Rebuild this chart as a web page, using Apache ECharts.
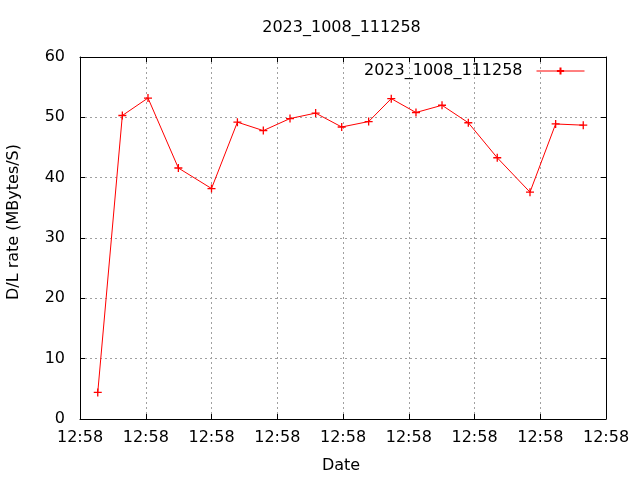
<!DOCTYPE html>
<html>
<head>
<meta charset="utf-8">
<script src="https://cdn.jsdelivr.net/npm/echarts@6/dist/echarts.min.js"></script>
<style>html,body{margin:0;padding:0;background:#fff}#c{width:640px;height:480px}</style>
</head>
<body>
<div id="c"></div>
<script>
// Data
var seriesName = '2023_1008_111258';
var chartTitle = '2023_1008_111258';
var xSeconds = [1.35, 3.22, 5.17, 7.48, 10.0, 11.97, 13.94, 15.97, 17.92, 19.9, 21.95, 23.67, 25.55, 27.53, 29.53, 31.73, 34.22, 36.17, 38.27];
var rates = [4.4, 50.3, 53.2, 41.6, 38.2, 49.2, 47.8, 49.8, 50.7, 48.4, 49.3, 53.1, 50.8, 52.0, 49.1, 43.3, 37.6, 48.9, 48.7];
var xTickLabel = '12:58';
var xAxisName = 'Date';
var yAxisName = 'D/L rate (MBytes/S)';

var FONT = 'DejaVu Sans';
var points = xSeconds.map(function (x, i) { return [x, rates[i]]; });

var gridLine = { show: true, lineStyle: { color: '#a0a0a0', type: [2, 3], width: 1 } };
var blackLine = { show: true, onZero: false, lineStyle: { color: '#000', width: 1 } };
var tick = { show: true, inside: true, length: 5, lineStyle: { color: '#000' } };

var chart = echarts.init(document.getElementById('c'), null, { renderer: 'canvas' });
chart.setOption({
  animation: false,
  backgroundColor: '#fff',
  textStyle: { fontFamily: FONT },
  grid: { left: 80, right: 34, top: 57, bottom: 61, containLabel: false },
  legend: {
    show: true,
    right: 50,
    top: 58,
    align: 'right',
    itemWidth: 48,
    itemHeight: 9,
    itemGap: 0,
    lineStyle: { width: 1 },
    textStyle: { fontFamily: FONT, fontSize: 16, color: '#000', padding: [0, 9, 0, 0] },
    data: [seriesName]
  },
  graphic: [
    { type: 'text', x: 341.5, y: 27.5, style: { text: chartTitle, font: '16px ' + FONT, fill: '#000', align: 'center', verticalAlign: 'middle' } },
    { type: 'text', x: 341, y: 465.5, style: { text: xAxisName, font: '16px ' + FONT, fill: '#000', align: 'center', verticalAlign: 'middle' } },
    { type: 'text', x: 14, y: 222, rotation: Math.PI / 2, style: { text: yAxisName, font: '16px ' + FONT, fill: '#000', align: 'center', verticalAlign: 'middle' } }
  ],
  xAxis: [
    {
      type: 'value', position: 'bottom', min: 0, max: 40, interval: 5,
      axisLine: blackLine, axisTick: tick, splitLine: gridLine,
      axisLabel: { show: true, margin: 11, fontSize: 16, color: '#000', fontFamily: FONT, formatter: function () { return xTickLabel; } }
    },
    {
      type: 'value', position: 'top', min: 0, max: 40, interval: 5,
      axisLine: blackLine, axisTick: tick, splitLine: { show: false }, axisLabel: { show: false }
    }
  ],
  yAxis: [
    {
      type: 'value', position: 'left', min: 0, max: 60, interval: 10,
      axisLine: blackLine, axisTick: tick, splitLine: gridLine,
      axisLabel: { show: true, margin: 15, fontSize: 16, color: '#000', fontFamily: FONT }
    },
    {
      type: 'value', position: 'right', min: 0, max: 60, interval: 10,
      axisLine: blackLine, axisTick: tick, splitLine: { show: false }, axisLabel: { show: false }
    }
  ],
  series: [{
    name: seriesName,
    type: 'line',
    data: points,
    symbol: 'path://M0,5L10,5M5,0L5,10',
    symbolSize: 8,
    showAllSymbol: true,
    lineStyle: { color: '#ff0000', width: 1 },
    itemStyle: { color: '#ff0000', borderColor: '#ff0000', borderWidth: 1.3 }
  }]
});
</script>
</body>
</html>
